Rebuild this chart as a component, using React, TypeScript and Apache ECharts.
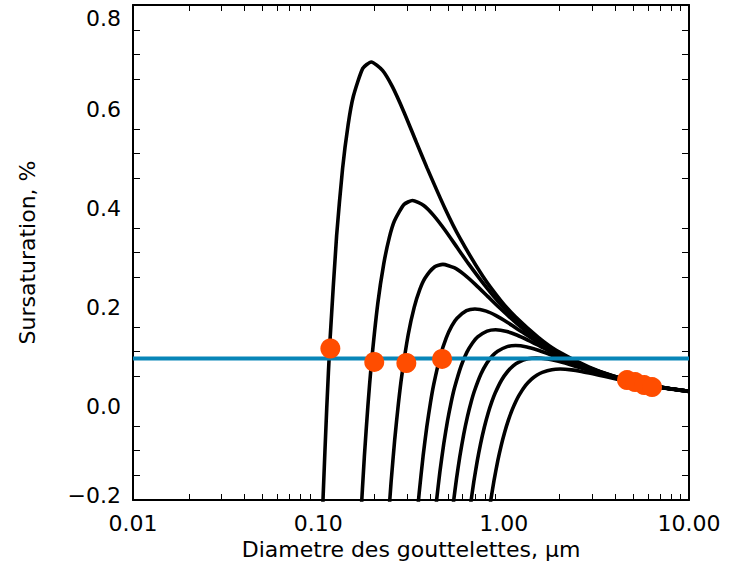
import React, { useEffect, useRef } from "react";
import * as echarts from "echarts";

// Axis settings
const xMin = 0.01;
const xMax = 10;
const yMin = -0.2;
const yMax = 0.8;
const yStep = 0.2;

// Horizontal ambient supersaturation level (%)
const ambientLevel = 0.086;

// Köhler curves: droplet diameter (µm) and supersaturation (%)
const diam1 = [0.1013, 0.1062, 0.111, 0.1158, 0.1255, 0.1351, 0.1448, 0.1544, 0.1737, 0.193, 0.222, 0.2509, 0.2895, 0.3378, 0.386, 0.4825, 0.579, 0.772, 0.965, 1.158, 1.544, 1.93, 2.895, 3.86, 5.79, 7.72, 10];
const sat1 = [-0.41, -0.19, -0.015, 0.127, 0.334, 0.469, 0.558, 0.615, 0.672, 0.685, 0.668, 0.635, 0.584, 0.523, 0.471, 0.389, 0.33, 0.252, 0.203, 0.17, 0.128, 0.102, 0.0684, 0.0513, 0.0343, 0.0257, 0.0198];

const diam2 = [0.161, 0.1691, 0.1771, 0.1852, 0.1932, 0.2093, 0.2254, 0.2415, 0.2576, 0.2898, 0.322, 0.3703, 0.4186, 0.483, 0.5635, 0.644, 0.805, 0.966, 1.288, 1.61, 1.932, 2.576, 3.22, 4.83, 6.44, 10];
const sat2 = [-0.405, -0.242, -0.113, -0.0087, 0.075, 0.197, 0.277, 0.33, 0.364, 0.397, 0.405, 0.395, 0.375, 0.345, 0.309, 0.278, 0.23, 0.195, 0.149, 0.12, 0.1, 0.0755, 0.0605, 0.0405, 0.0303, 0.0196];

const diam3 = [0.235, 0.2468, 0.2585, 0.2703, 0.282, 0.3055, 0.329, 0.3525, 0.376, 0.423, 0.47, 0.5405, 0.611, 0.705, 0.8225, 0.94, 1.175, 1.41, 1.88, 2.35, 2.82, 3.76, 4.7, 7.05, 10];
const sat3 = [-0.276, -0.165, -0.0767, -0.0059, 0.0511, 0.1344, 0.1891, 0.2249, 0.248, 0.2707, 0.276, 0.2693, 0.2557, 0.2351, 0.2108, 0.1898, 0.1568, 0.1329, 0.1013, 0.0817, 0.0684, 0.0515, 0.0413, 0.0276, 0.0195];

const diam4 = [0.336, 0.35, 0.3675, 0.385, 0.4025, 0.42, 0.455, 0.49, 0.525, 0.56, 0.63, 0.7, 0.805, 0.91, 1.05, 1.225, 1.4, 1.75, 2.1, 2.8, 3.5, 4.2, 5.6, 7.0, 10];
const sat4 = [-0.2597, -0.186, -0.1113, -0.0517, -0.004, 0.0344, 0.0906, 0.1274, 0.1516, 0.1671, 0.1824, 0.186, 0.1815, 0.1723, 0.1585, 0.1421, 0.1279, 0.1056, 0.0896, 0.0683, 0.0551, 0.0461, 0.0347, 0.0278, 0.0195];

const diam5 = [0.4163, 0.4344, 0.4525, 0.4751, 0.4978, 0.5204, 0.543, 0.5883, 0.6335, 0.6788, 0.724, 0.8145, 0.905, 1.0408, 1.1765, 1.3575, 1.5838, 1.81, 2.2625, 2.715, 3.62, 4.525, 5.43, 7.24, 10];
const sat5 = [-0.2701, -0.201, -0.144, -0.0862, -0.04, -0.0031, 0.0267, 0.0701, 0.0987, 0.1173, 0.1294, 0.1412, 0.144, 0.1405, 0.1334, 0.1227, 0.11, 0.099, 0.0818, 0.0693, 0.0529, 0.0426, 0.0357, 0.0269, 0.0195];

const diam6 = [0.5104, 0.5336, 0.5568, 0.58, 0.609, 0.638, 0.667, 0.696, 0.754, 0.812, 0.87, 0.928, 1.044, 1.16, 1.334, 1.508, 1.74, 2.03, 2.32, 2.9, 3.48, 4.64, 5.8, 6.96, 10];
const sat6 = [-0.2756, -0.2101, -0.1564, -0.112, -0.067, -0.0311, -0.0024, 0.0207, 0.0545, 0.0767, 0.0913, 0.1006, 0.1098, 0.112, 0.1093, 0.1037, 0.0954, 0.0855, 0.077, 0.0636, 0.0539, 0.0411, 0.0332, 0.0277, 0.0194];

const diam7 = [0.63, 0.66, 0.69, 0.72, 0.75, 0.7875, 0.825, 0.8625, 0.9, 0.975, 1.05, 1.125, 1.2, 1.35, 1.5, 1.725, 1.95, 2.25, 2.625, 3.0, 3.75, 4.5, 6.0, 7.5, 10];
const sat7 = [-0.2764, -0.2141, -0.1632, -0.1215, -0.087, -0.0521, -0.0242, -0.0019, 0.0161, 0.0424, 0.0596, 0.0709, 0.0782, 0.0853, 0.087, 0.0849, 0.0806, 0.0741, 0.0665, 0.0598, 0.0494, 0.0419, 0.0319, 0.0258, 0.0194];

const diam8 = [0.808, 0.8484, 0.8888, 0.9292, 0.9696, 1.01, 1.0605, 1.111, 1.1615, 1.212, 1.313, 1.414, 1.515, 1.616, 1.818, 2.02, 2.323, 2.626, 3.03, 3.535, 4.04, 5.05, 6.06, 8.08, 10];
const sat8 = [-0.262, -0.2049, -0.1587, -0.121, -0.09, -0.0645, -0.0386, -0.0179, -0.0014, 0.0119, 0.0314, 0.0442, 0.0526, 0.0579, 0.0633, 0.0645, 0.0629, 0.0597, 0.0549, 0.0493, 0.0443, 0.0366, 0.0311, 0.0237, 0.0193];

// Equilibrium points (orange dots)
const dotDiam = [0.1161, 0.2003, 0.2985, 0.4652, 4.63, 5.12, 5.73, 6.32];
const dotSat = [0.106, 0.079, 0.0768, 0.085, 0.0422, 0.0382, 0.0322, 0.0281];

const curveDiams = [diam1, diam2, diam3, diam4, diam5, diam6, diam7, diam8];
const curveSats = [sat1, sat2, sat3, sat4, sat5, sat6, sat7, sat8];

const FONT = "DejaVu Sans";
const BLACK = "#000000";
const BLUE = "#0886B8";
const ORANGE = "#FF4D00";

function zip(a: number[], b: number[]): number[][] {
  const n = Math.min(a.length, b.length);
  const out: number[][] = [];
  for (let i = 0; i < n; i++) out.push([a[i], b[i]]);
  return out;
}

function yLabel(v: number): string {
  const r = Math.round(v * 10) / 10;
  const txt = (r < 0 ? "\u2212" : "") + Math.abs(r).toFixed(1);
  if (Math.abs(r - yMax) < 1e-6) return "{hi|" + txt + "}";
  if (Math.abs(r - yMin) < 1e-6) return "{lo|" + txt + "}";
  return "{n|" + txt + "}";
}

const labelBase = { fontSize: 22, fontFamily: FONT, color: BLACK };

export default function App() {
  const ref = useRef<HTMLDivElement | null>(null);

  useEffect(() => {
    if (!ref.current) return;
    const chart = echarts.init(ref.current, undefined, { renderer: "svg" });

    const axisLine = { show: true, onZero: false, lineStyle: { color: BLACK, width: 2 } };

    const xCommon = {
      type: "log" as const,
      logBase: 10,
      min: xMin,
      max: xMax,
      axisLine,
      axisTick: { show: false, inside: true },
      minorTick: { show: true, splitNumber: 9, length: 6, lineStyle: { color: BLACK, width: 1 } },
      splitLine: { show: false },
      minorSplitLine: { show: false },
    };

    const yCommon = {
      type: "value" as const,
      min: yMin,
      max: yMax,
      interval: yStep,
      axisLine,
      axisTick: { show: false, inside: true },
      minorTick: { show: true, splitNumber: 4, length: 7, lineStyle: { color: BLACK, width: 1 } },
      splitLine: { show: false },
      minorSplitLine: { show: false },
    };

    const series: any[] = curveDiams.map((d, i) => ({
      type: "line",
      data: zip(d, curveSats[i]),
      showSymbol: false,
      smooth: 0.2,
      lineStyle: { color: BLACK, width: 3.6 },
      z: 2,
      silent: true,
    }));

    series.push({
      type: "line",
      data: [
        [xMin, ambientLevel],
        [xMax, ambientLevel],
      ],
      showSymbol: false,
      lineStyle: { color: BLUE, width: 4 },
      z: 3,
      silent: true,
    });

    series.push({
      type: "scatter",
      data: zip(dotDiam, dotSat),
      symbol: "circle",
      symbolSize: 20,
      itemStyle: { color: ORANGE, opacity: 1 },
      z: 4,
      silent: true,
    });

    chart.setOption({
      animation: false,
      backgroundColor: "#ffffff",
      grid: { left: 133, right: 46, top: 5, bottom: 72, containLabel: false },
      xAxis: [
        {
          ...xCommon,
          position: "bottom",
          axisLabel: {
            ...labelBase,
            margin: 12,
            formatter: (v: number) => v.toFixed(2),
          },
          name: "Diametre des gouttelettes, \u03bcm",
          nameLocation: "middle",
          nameGap: 38,
          nameTextStyle: { ...labelBase },
        },
        {
          ...xCommon,
          position: "top",
          axisLabel: { show: false },
        },
      ],
      yAxis: [
        {
          ...yCommon,
          position: "left",
          axisLabel: {
            ...labelBase,
            margin: 12,
            formatter: yLabel,
            rich: {
              n: { ...labelBase, padding: [10, 0, 0, 0] },
              hi: { ...labelBase, padding: [26, 0, 0, 0] },
              lo: { ...labelBase, padding: [0, 0, 10, 0] },
            },
          },
          name: "Sursaturation, %",
          nameLocation: "middle",
          nameGap: 95,
          nameRotate: 90,
          nameTextStyle: { ...labelBase },
        },
        {
          ...yCommon,
          position: "right",
          axisLabel: { show: false },
        },
      ],
      series,
    });

    return () => {
      chart.dispose();
    };
  }, []);

  return (
    <div
      ref={ref}
      style={{ position: "fixed", left: 0, top: 0, width: 735, height: 572, background: "#fff" }}
    />
  );
}
